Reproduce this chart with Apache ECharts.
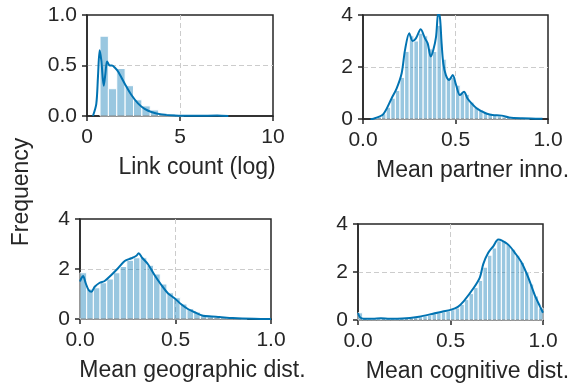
<!DOCTYPE html>
<html>
<head>
<meta charset="utf-8">
<script src="https://cdn.jsdelivr.net/npm/echarts@6/dist/echarts.min.js"></script>
<style>
  html, body { margin: 0; padding: 0; background: #fff; }
  #chart { width: 572px; height: 384px; }
</style>
</head>
<body>
<div id="chart"></div>
<script>
// histogram bins (left edge) and heights
const linkBins = [0.7, 1.15, 1.6, 2.05, 2.5, 2.95, 3.4, 3.85, 4.3, 4.75]
const linkHist = [0.79, 0.27, 0.47, 0.30, 0.16, 0.10, 0.06, 0.03, 0.02, 0.01]
const linkKde = [
	[0.32, 0], [0.5, 0.12], [0.59, 0.39], [0.68, 0.65], [0.77, 0.55], [0.9, 0.3], [0.99, 0.42],
	[1.08, 0.54], [1.22, 0.5], [1.34, 0.5], [1.49, 0.48], [1.67, 0.44], [2.03, 0.32], [2.38, 0.21],
	[2.74, 0.125], [3.1, 0.07], [3.46, 0.04], [4.0, 0.016], [4.7, 0.005], [6.0, 0.002], [7.0, 0.005], [7.6, 0]
]

const partnerBins = [0.05, 0.075, 0.1, 0.125, 0.15, 0.175, 0.2, 0.225, 0.25, 0.275, 0.3, 0.325, 0.35, 0.375,
	0.4, 0.425, 0.45, 0.475, 0.5, 0.525, 0.55, 0.575, 0.6, 0.625, 0.65, 0.675, 0.7, 0.725, 0.75, 0.775,
	0.8, 0.825, 0.85, 0.875]
const partnerHist = [0.02, 0.08, 0.2, 0.45, 0.8, 1.1, 1.6, 2.6, 3.2, 3.0, 3.3, 3.2, 2.7, 2.6,
	3.6, 2.3, 1.6, 1.6, 1.3, 1.0, 0.95, 0.65, 0.45, 0.35, 0.25, 0.18, 0.15, 0.12, 0.08, 0.05,
	0.04, 0.03, 0.02, 0.01]
const partnerKde = [
	[0.04, 0], [0.056, 0.01], [0.11, 0.19], [0.155, 0.8], [0.182, 1.18], [0.209, 1.76], [0.227, 2.65],
	[0.25, 3.3], [0.268, 3.0], [0.286, 3.1], [0.312, 3.45], [0.335, 3.1], [0.35, 2.9], [0.366, 2.4],
	[0.38, 2.65], [0.395, 3.17], [0.407, 4.1], [0.416, 3.9], [0.425, 2.9], [0.434, 2.14], [0.448, 1.69],
	[0.466, 1.5], [0.485, 1.69], [0.503, 1.31], [0.524, 0.92], [0.546, 1.05], [0.564, 0.8], [0.587, 0.6],
	[0.614, 0.41], [0.64, 0.3], [0.67, 0.2], [0.70, 0.15], [0.75, 0.13], [0.79, 0.06], [0.86, 0.03],
	[0.97, 0.01]
]

const geoBins = [0, 0.035, 0.07, 0.105, 0.14, 0.175, 0.21, 0.245, 0.28, 0.315, 0.35, 0.385, 0.42,
	0.455, 0.49, 0.525, 0.56, 0.595, 0.63, 0.665, 0.7, 0.735, 0.77, 0.805, 0.84]
const geoHist = [1.85, 1.2, 1.25, 1.45, 1.6, 1.85, 2.1, 2.35, 2.45, 2.45, 2.15, 1.8, 1.4,
	1.05, 0.85, 0.6, 0.42, 0.28, 0.15, 0.1, 0.07, 0.05, 0.03, 0.02, 0.01]
const geoKde = [
	[0, 1.5], [0.007, 1.63], [0.016, 1.72], [0.03, 1.43], [0.045, 1.16], [0.06, 1.09], [0.077, 1.29],
	[0.103, 1.45], [0.129, 1.52], [0.164, 1.76], [0.199, 2.03], [0.234, 2.32], [0.269, 2.43],
	[0.295, 2.53], [0.307, 2.63], [0.325, 2.45], [0.356, 2.19], [0.39, 1.76], [0.426, 1.36],
	[0.46, 1.03], [0.495, 0.83], [0.53, 0.59], [0.565, 0.4], [0.6, 0.27], [0.644, 0.13],
	[0.69, 0.1], [0.73, 0.08], [0.8, 0.04], [0.91, 0.01], [1.0, 0]
]

const cogBins = [0, 0.025, 0.05, 0.075, 0.1, 0.125, 0.15, 0.175, 0.2, 0.225, 0.25, 0.275, 0.3, 0.325,
	0.35, 0.375, 0.4, 0.425, 0.45, 0.475, 0.5, 0.525, 0.55, 0.575, 0.6, 0.625, 0.65, 0.675, 0.7, 0.725,
	0.75, 0.775, 0.8, 0.825, 0.85, 0.875, 0.9, 0.925, 0.95, 0.975]
const cogHist = [0.3, 0.08, 0.04, 0.04, 0.05, 0.07, 0.05, 0.05, 0.05, 0.06, 0.07, 0.09, 0.11, 0.14,
	0.17, 0.2, 0.25, 0.3, 0.34, 0.38, 0.43, 0.5, 0.65, 0.85, 1.1, 1.35, 1.65, 2.2, 2.7, 3.0,
	3.3, 3.3, 3.15, 2.95, 2.7, 2.4, 2.0, 1.5, 1.0, 0.5]
const cogKde = [
	[0, 0.29], [0.01, 0.12], [0.03, 0.05], [0.08, 0.05], [0.124, 0.07], [0.17, 0.05], [0.24, 0.06],
	[0.33, 0.14], [0.4, 0.25], [0.458, 0.35], [0.5, 0.42], [0.54, 0.55], [0.572, 0.79], [0.623, 1.31],
	[0.659, 1.78], [0.677, 2.33], [0.704, 2.8], [0.731, 3.07], [0.758, 3.35], [0.776, 3.32],
	[0.812, 3.14], [0.848, 2.8], [0.884, 2.4], [0.92, 1.78], [0.956, 1.03], [0.984, 0.56], [1.0, 0.3]
]

const FONT = '"Liberation Sans", Arial, sans-serif'
const INK = '#262626'
const BLUE = '#0173b2'
const BAR = 'rgba(1,115,178,0.4)'

// panels: grid box, axes, data
const panels = [
	{ box: [87, 15, 186, 101], x: [0, 10, 5], y: [0, 1, 0.5], name: 'Link count (log)', xFmt: 0, yFmt: 1,
		bins: linkBins, hist: linkHist, w: 0.45, kde: linkKde },
	{ box: [363, 15, 185, 104], x: [0, 1, 0.5], y: [0, 4, 2], name: 'Mean partner inno.', xFmt: 1, yFmt: 0,
		bins: partnerBins, hist: partnerHist, w: 0.025, kde: partnerKde },
	{ box: [80, 219, 191, 100], x: [0, 1, 0.5], y: [0, 4, 2], name: 'Mean geographic dist.', xFmt: 1, yFmt: 0,
		bins: geoBins, hist: geoHist, w: 0.035, kde: geoKde },
	{ box: [358, 224, 185, 98], x: [0, 1, 0.5], y: [0, 4, 2], name: 'Mean cognitive dist.', xFmt: 1, yFmt: 0,
		bins: cogBins, hist: cogHist, w: 0.025, kde: cogKde },
]

function axisBase(range, fmt) {
	return {
		type: 'value',
		min: range[0],
		max: range[1],
		interval: range[2],
		axisLine: { show: true, onZero: false, lineStyle: { color: INK, width: 1.5 } },
		axisTick: { show: true, length: 5, lineStyle: { color: INK, width: 1.5 } },
		axisLabel: { color: INK, fontSize: 21, fontFamily: FONT, formatter: (v) => v.toFixed(fmt) },
		splitLine: { show: true, showMinLine: false, showMaxLine: false, lineStyle: { color: '#cccccc', type: [5, 3], width: 1 } },
	}
}

let grid = [], xAxis = [], yAxis = [], series = []
panels.forEach((p, i) => {
	grid.push({
		left: p.box[0], top: p.box[1], width: p.box[2], height: p.box[3],
		show: true, borderColor: INK, borderWidth: 1.5, backgroundColor: 'transparent',
	})
	let xa = axisBase(p.x, p.xFmt)
	xa.gridIndex = i
	xa.axisLabel.margin = 11
	xa.name = p.name
	xa.nameLocation = 'middle'
	xa.nameGap = 40
	xa.nameTextStyle = { color: INK, fontSize: 23, fontFamily: FONT, padding: [0, 0, 0, 34] }
	xAxis.push(xa)
	let ya = axisBase(p.y, p.yFmt)
	ya.gridIndex = i
	ya.axisLabel.margin = 10
	yAxis.push(ya)

	const w = p.w
	series.push({
		type: 'custom',
		xAxisIndex: i,
		yAxisIndex: i,
		data: p.bins.map((b, j) => [b, p.hist[j]]),
		renderItem: (params, api) => {
			const x0 = api.value(0)
			const h = api.value(1)
			const a = api.coord([x0, 0])
			const b = api.coord([x0 + w, h])
			const cs = params.coordSys
			const rect = echarts.graphic.clipRectByRect(
				{ x: a[0], y: b[1], width: b[0] - a[0], height: a[1] - b[1] },
				{ x: cs.x, y: cs.y, width: cs.width, height: cs.height }
			)
			return rect && { type: 'rect', shape: rect, style: { fill: BAR, stroke: '#fff', lineWidth: 1 } }
		},
		z: 2,
	})
	series.push({
		type: 'line',
		xAxisIndex: i,
		yAxisIndex: i,
		data: p.kde,
		smooth: 0.3,
		symbol: 'none',
		clip: true,
		lineStyle: { color: BLUE, width: 2 },
		z: 3,
	})
})

const option = {
	animation: false,
	backgroundColor: '#fff',
	grid: grid,
	xAxis: xAxis,
	yAxis: yAxis,
	series: series,
	graphic: [{
		type: 'text',
		x: 22,
		y: 192,
		rotation: Math.PI / 2,
		style: { text: 'Frequency', fill: INK, fontSize: 23, fontFamily: FONT, align: 'center', verticalAlign: 'middle' },
	}],
}

const chart = echarts.init(document.getElementById('chart'))
chart.setOption(option)
</script>
</body>
</html>
